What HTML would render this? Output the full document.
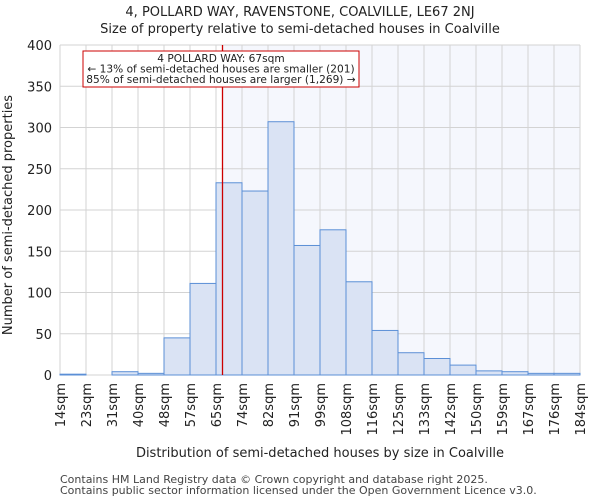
<!DOCTYPE html>
<html><head><meta charset="utf-8"><style>
body{margin:0;background:#fff;font-family:"DejaVu Sans","Liberation Sans",sans-serif;}
svg text{font-family:"DejaVu Sans","Liberation Sans",sans-serif;fill:#222;}
</style></head><body>
<svg id="chart" width="600" height="500" xmlns="http://www.w3.org/2000/svg">
<text x="300" y="16" text-anchor="middle" font-size="13">4, POLLARD WAY, RAVENSTONE, COALVILLE, LE67 2NJ</text>
<text x="300" y="33" text-anchor="middle" font-size="13">Size of property relative to semi-detached houses in Coalville</text>
<g id="plot"></g>
<text x="320" y="457" text-anchor="middle" font-size="13">Distribution of semi-detached houses by size in Coalville</text>
<text transform="translate(12,215) rotate(-90)" text-anchor="middle" font-size="13">Number of semi-detached properties</text>
<text x="60" y="483" font-size="11" style="fill:#444">Contains HM Land Registry data © Crown copyright and database right 2025.</text>
<text x="60" y="494" font-size="11" style="fill:#444">Contains public sector information licensed under the Open Government Licence v3.0.</text>
</svg>
<script>
const binLabels=["14sqm","23sqm","31sqm","40sqm","48sqm","57sqm","65sqm","74sqm","82sqm","91sqm","99sqm","108sqm","116sqm","125sqm","133sqm","142sqm","150sqm","159sqm","167sqm","176sqm","184sqm"];
const counts=[1,0,4,2,45,111,233,223,307,157,176,113,54,27,20,12,5,4,2,2];
const yTicks=[0,50,100,150,200,250,300,350,400];
const markerBin=6.25;
const NS="http://www.w3.org/2000/svg";
const L=60,R=580,T=45,B=375,YMAX=400;
const bw=(R-L)/counts.length;
const xs=i=>L+i*bw;
const ys=v=>B-(v/YMAX)*(B-T);
const g=document.getElementById('plot');
function mk(t,a){const e=document.createElementNS(NS,t);for(const k in a)e.setAttribute(k,a[k]);g.appendChild(e);return e;}
const mx=xs(markerBin);
let e=mk('rect',{x:mx,y:T,width:R-mx,height:B-T,fill:'#f5f7fd'});


for(let i=0;i<=counts.length;i++){e=mk('line',{x1:xs(i),x2:xs(i),y1:T,y2:B,stroke:'#d3d3d3','stroke-width':1});

}
yTicks.forEach(v=>{e=mk('line',{x1:L,x2:R,y1:ys(v),y2:ys(v),stroke:'#d3d3d3','stroke-width':1});


e=mk('text',{x:L-8,y:ys(v)+5,'text-anchor':'end','font-size':13});e.textContent=v;

});
counts.forEach((c,i)=>{e=mk('rect',{x:xs(i),y:ys(c),width:bw,height:B-ys(c),fill:'#dae3f4',stroke:'#5b8fd6','stroke-width':1});

});
binLabels.forEach((l,i)=>{const x=xs(i);e=mk('text',{transform:`translate(${x+5},383) rotate(-90)`,'text-anchor':'end','font-size':13});e.textContent=l;

});
e=mk('line',{x1:mx,x2:mx,y1:T,y2:B,stroke:'#cc0000','stroke-width':1.3});


e=mk('rect',{x:83,y:51,width:276,height:36,fill:'#fff',stroke:'#cc0000','stroke-width':1});


["4 POLLARD WAY: 67sqm","← 13% of semi-detached houses are smaller (201)","85% of semi-detached houses are larger (1,269) →"].forEach((t,i)=>{e=mk('text',{x:221,y:62+i*10.5,'text-anchor':'middle','font-size':10.6});e.textContent=t;

});
</script>
</body></html>
